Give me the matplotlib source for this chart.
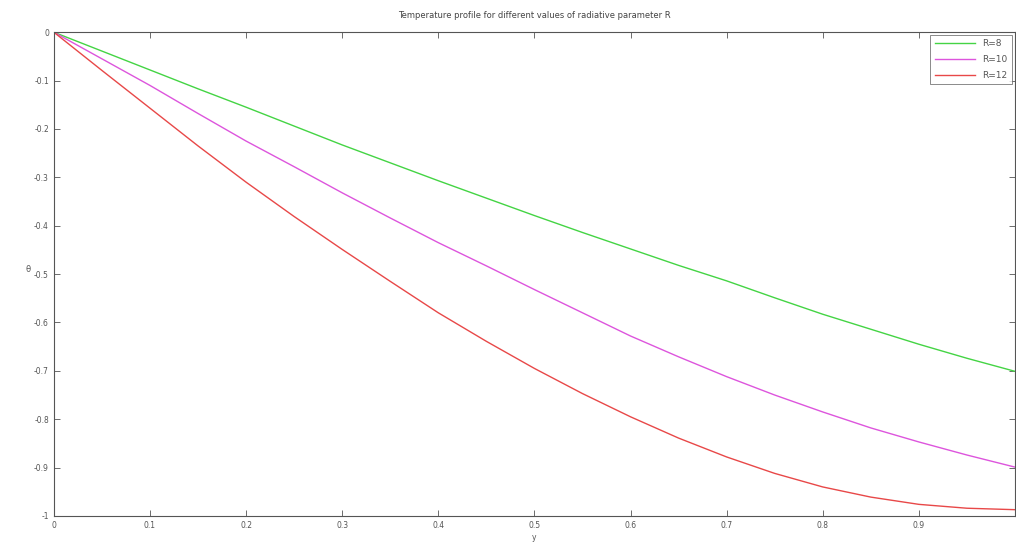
import numpy as np
import matplotlib
matplotlib.use("Agg")
import matplotlib.pyplot as plt

# values (every 0.05 in y)
y = [0, 0.05, 0.1, 0.15, 0.2, 0.25, 0.3, 0.35, 0.4, 0.45, 0.5,
     0.55, 0.6, 0.65, 0.7, 0.75, 0.8, 0.85, 0.9, 0.95, 1.0]
theta_r8 = [0, -0.039, -0.078, -0.117, -0.155, -0.194, -0.233, -0.270, -0.307, -0.343, -0.379,
            -0.414, -0.448, -0.482, -0.514, -0.549, -0.583, -0.614, -0.645, -0.674, -0.701]
theta_r10 = [0, -0.055, -0.110, -0.168, -0.225, -0.278, -0.332, -0.384, -0.435, -0.483, -0.532,
             -0.580, -0.628, -0.671, -0.712, -0.750, -0.785, -0.818, -0.847, -0.874, -0.899]
theta_r12 = [0, -0.079, -0.157, -0.235, -0.310, -0.381, -0.449, -0.515, -0.580, -0.639, -0.695,
             -0.747, -0.795, -0.839, -0.878, -0.912, -0.940, -0.961, -0.976, -0.984, -0.987]
labels = ["R=8", "R=10", "R=12"]
colors = ["#44d444", "#dd55dd", "#e84848"]

fig = plt.figure(figsize=(10.16, 5.46), dpi=100)
ax = fig.add_axes([0.053, 0.055, 0.946, 0.886])

for vals, lab, c in zip([theta_r8, theta_r10, theta_r12], labels, colors):
    ax.plot(y, vals, color=c, linewidth=1, label=lab)

ax.set_xlim(0, 1)
ax.set_ylim(-1, 0)
ax.set_xticks(np.arange(0, 1.0, 0.1))
ax.set_xticklabels(["0", "0.1", "0.2", "0.3", "0.4", "0.5", "0.6", "0.7", "0.8", "0.9"])
ax.set_yticks(np.arange(-1, 0.01, 0.1))
ax.set_yticklabels(["-1", "-0.9", "-0.8", "-0.7", "-0.6", "-0.5", "-0.4", "-0.3", "-0.2", "-0.1", "0"])
ax.tick_params(direction="in", top=True, right=True, labelsize=5.5, colors="#555555",
               length=4, width=0.6)
for s in ax.spines.values():
    s.set_color("#555555")
    s.set_linewidth(0.8)

ax.set_title("Temperature profile for different values of radiative parameter R",
             fontsize=6, color="#444444", pad=10)
ax.set_xlabel("y", fontsize=5.5, color="#555555", labelpad=2)
ax.set_ylabel("θ", fontsize=6, color="#555555", labelpad=4, rotation=0)

leg = ax.legend(loc="upper right", fontsize=6.5, frameon=True, fancybox=False,
                edgecolor="#555555", borderaxespad=0.3, handlelength=4.5,
                labelspacing=0.75, borderpad=0.5)
leg.get_frame().set_linewidth(0.6)
for t in leg.get_texts():
    t.set_color("#555555")

fig.savefig("out.png", dpi=100)
